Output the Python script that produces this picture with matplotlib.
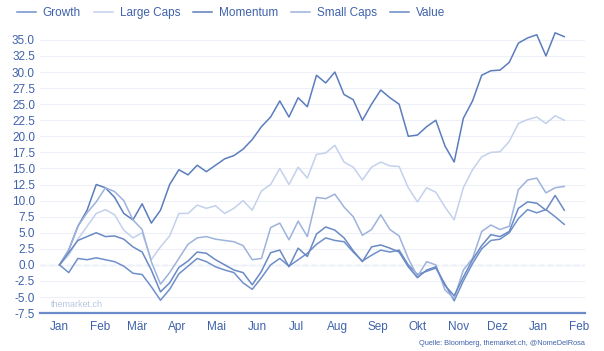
import matplotlib
matplotlib.use("Agg")
import matplotlib.pyplot as plt
import matplotlib.dates as mdates
import numpy as np
import pandas as pd

plt.rcParams['font.family'] = ['Liberation Sans', 'DejaVu Sans']

# weekly observations, Jan 2021 - Jan 2022 (performance in %)
dates = pd.date_range("2021-01-01", periods=56, freq="7D")

momentum = [0, 2.3, 6.0, 8.5, 12.5, 12.0, 10.5, 8.0, 7.0, 9.5, 6.5, 8.5, 12.5, 14.8,
            14.0, 15.5, 14.5, 15.5, 16.5, 17.0, 18.0, 19.5, 21.5, 23.0, 25.5, 23.0,
            26.0, 24.6, 29.5, 28.3, 30.0, 26.5, 25.7, 22.5, 25.0, 27.2, 26.0, 25.0,
            20.0, 20.2, 21.5, 22.5, 18.5, 16.0, 22.8, 25.5, 29.5, 30.2, 30.3, 31.5,
            34.5, 35.3, 35.8, 32.5, 36.1, 35.5]
large_caps = [0, 1.5, 4.0, 6.0, 8.0, 8.6, 7.8, 5.4, 4.2, 5.0, 0.8, 2.8, 4.5, 8.0,
              8.0, 9.3, 8.8, 9.2, 8.0, 8.8, 10.0, 8.5, 11.5, 12.5, 15.0, 12.5,
              15.2, 13.5, 17.2, 17.4, 18.6, 16.0, 15.2, 13.2, 15.2, 16.0, 15.4, 15.3,
              12.0, 9.8, 12.0, 11.3, 9.0, 7.0, 12.0, 14.8, 16.8, 17.5, 17.6, 19.2,
              22.0, 22.6, 23.0, 22.0, 23.2, 22.5]
small_caps = [0, 2.3, 6.0, 8.1, 9.8, 12.0, 11.4, 10.0, 7.0, 5.5, 0.5, -3.0, -1.2, 1.0,
              3.2, 4.2, 4.4, 4.0, 3.8, 3.6, 3.0, 0.8, 1.0, 5.8, 6.5, 3.9,
              6.8, 4.4, 10.5, 10.3, 11.0, 9.0, 7.5, 4.6, 5.5, 7.8, 5.5, 4.5,
              1.0, -1.8, 0.5, 0.0, -3.9, -5.2, -0.8, 1.0, 5.2, 6.2, 5.5, 6.0,
              11.7, 13.2, 13.5, 11.2, 12.0, 12.2]
value = [0, 1.9, 3.8, 4.4, 5.0, 4.4, 4.5, 4.0, 2.8, 2.0, -0.8, -4.2, -2.8, -0.4,
         0.6, 2.0, 1.8, 0.8, 0.0, -0.8, -1.2, -3.1, -1.0, 1.9, 2.3, -0.3,
         2.6, 1.3, 4.8, 5.9, 5.4, 4.2, 2.2, 0.5, 2.8, 3.1, 2.6, 2.0,
         -0.3, -2.0, -0.8, -0.3, -3.2, -4.8, -1.9, 0.8, 3.0, 4.7, 4.4, 5.2,
         8.8, 9.8, 9.6, 8.5, 10.8, 8.5]
growth = [0, -1.2, 1.0, 0.8, 1.1, 0.8, 0.5, -0.2, -1.3, -1.5, -3.4, -5.5, -3.8, -1.4,
          -0.2, 1.0, 0.5, -0.3, -0.8, -1.2, -2.8, -3.8, -2.0, 0.0, 1.0, -0.2,
          0.8, 1.8, 3.2, 4.2, 3.8, 3.6, 2.0, 0.6, 1.5, 2.3, 2.0, 2.3,
          0.0, -1.5, -1.0, -0.5, -3.0, -5.6, -2.5, 0.2, 2.5, 3.8, 4.0, 5.0,
          7.2, 8.6, 8.1, 8.6, 7.5, 6.3]

month_labels = ["Jan", "Feb", "Mär", "Apr", "Mai", "Jun", "Jul", "Aug", "Sep",
                "Okt", "Nov", "Dez", "Jan", "Feb"]

txt = "#3f62ab"

fig = plt.figure(figsize=(6.04, 3.51), dpi=100)
ax = fig.add_axes([0.066, 0.108, 0.903, 0.815])

ax.plot(dates, growth, color="#6f8fca", lw=1.1, label="Growth")
ax.plot(dates, large_caps, color="#c3d1ec", lw=1.1, label="Large Caps")
ax.plot(dates, momentum, color="#5b7dbd", lw=1.1, label="Momentum")
ax.plot(dates, small_caps, color="#9db2dc", lw=1.1, label="Small Caps")
ax.plot(dates, value, color="#6a89c4", lw=1.1, label="Value")

ax.axhline(0, color="#a7b9e0", lw=0.9, ls=(0, (4, 3)), zorder=0)

ax.set_ylim(-7.5, 37)
ax.set_yticks(np.arange(-7.5, 35.1, 2.5))
ax.yaxis.set_major_formatter(matplotlib.ticker.FormatStrFormatter("%.1f"))
ax.grid(axis='y', color="#edf0f8", lw=0.8)
ax.set_axisbelow(True)

ax.set_xlim(pd.Timestamp("2020-12-17"), pd.Timestamp("2022-02-06"))
ticks = pd.date_range("2021-01-01", periods=14, freq="MS")
ax.set_xticks(ticks)
ax.set_xticklabels(month_labels)

ax.tick_params(axis='both', length=0, labelsize=8.5, colors=txt)
ax.tick_params(axis='x', pad=6)
for s in ["top", "right", "left"]:
    ax.spines[s].set_visible(False)
ax.spines["bottom"].set_color("#6c8bc8")
ax.spines["bottom"].set_linewidth(1.6)

fig.legend(loc="upper left", bbox_to_anchor=(0.01, 1.01), ncol=5, frameon=False,
           fontsize=8.5, handlelength=1.6, handletextpad=0.6, columnspacing=1.1,
           labelcolor=txt)

ax.text(0.02, 0.02, "themarket.ch", transform=ax.transAxes, fontsize=6.5,
        color="#b9c6e3")
fig.text(0.968, 0.01, "Quelle: Bloomberg, themarket.ch, @NomeDelRosa", ha="right",
         va="bottom", fontsize=5.3, color=txt)

fig.savefig("out.png", dpi=100)
